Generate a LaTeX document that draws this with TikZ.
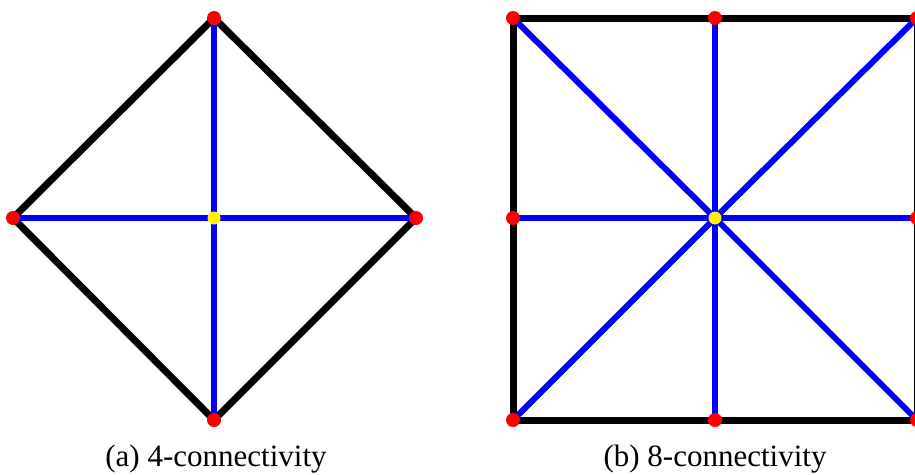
\documentclass[tikz,border=0pt]{standalone}
\usepackage{fontspec}
\setmainfont{Liberation Serif}
\usetikzlibrary{positioning}

\begin{document}
\begin{tikzpicture}[x=1pt, y=-1pt,
		border/.style={line width=7pt, black},
		link/.style={line width=6pt, blue},
		pix/.style={circle, fill=red, inner sep=0pt, minimum size=14pt},
		seed/.style={circle, fill=yellow, inner sep=0pt, minimum size=13pt},
		caption/.style={font=\fontsize{31}{36}\selectfont, anchor=base}]

		\useasboundingbox (0,0) rectangle (915,474);

		% === 4-connectivity: pixel positions ===
		\coordinate (aC) at (214,218);
		\coordinate (aN) at (214,18);
		\coordinate (aS) at (214,420);
		\coordinate (aW) at (13,218);
		\coordinate (aE) at (416,218);

		% === 8-connectivity: pixel positions ===
		\coordinate (bC)  at (715,218);
		\coordinate (bN)  at (715,18);
		\coordinate (bS)  at (715,420);
		\coordinate (bW)  at (513,218);
		\coordinate (bE)  at (917,218);
		\coordinate (bNW) at (513,18);
		\coordinate (bNE) at (917,18);
		\coordinate (bSW) at (513,420);
		\coordinate (bSE) at (917,420);

		% === Borders ===
		\draw[border] (aN) -- (aE) -- (aS) -- (aW) -- cycle;
		\draw[border] (bNW) -- (bNE) -- (bSE) -- (bSW) -- cycle;

		% === Links to the centre pixel ===
		\foreach \p in {aN, aS, aW, aE}
			\draw[link] (aC) -- (\p);
		\foreach \p in {bN, bS, bW, bE, bNW, bNE, bSW, bSE}
			\draw[link] (bC) -- (\p);

		% === Pixels ===
		\foreach \p in {aN, aS, aW, aE, bN, bS, bW, bE, bNW, bNE, bSW, bSE}
			\node[pix] (\p-dot) at (\p) {};
		\node[seed] (aC-dot) at (aC) {};
		\node[seed] (bC-dot) at (bC) {};

		% === Captions ===
		\node[caption] (capA) at (216,466) {(a) 4-connectivity};
		\node[caption] (capB) at (715,466) {(b) 8-connectivity};
	\end{tikzpicture}
\end{document}
